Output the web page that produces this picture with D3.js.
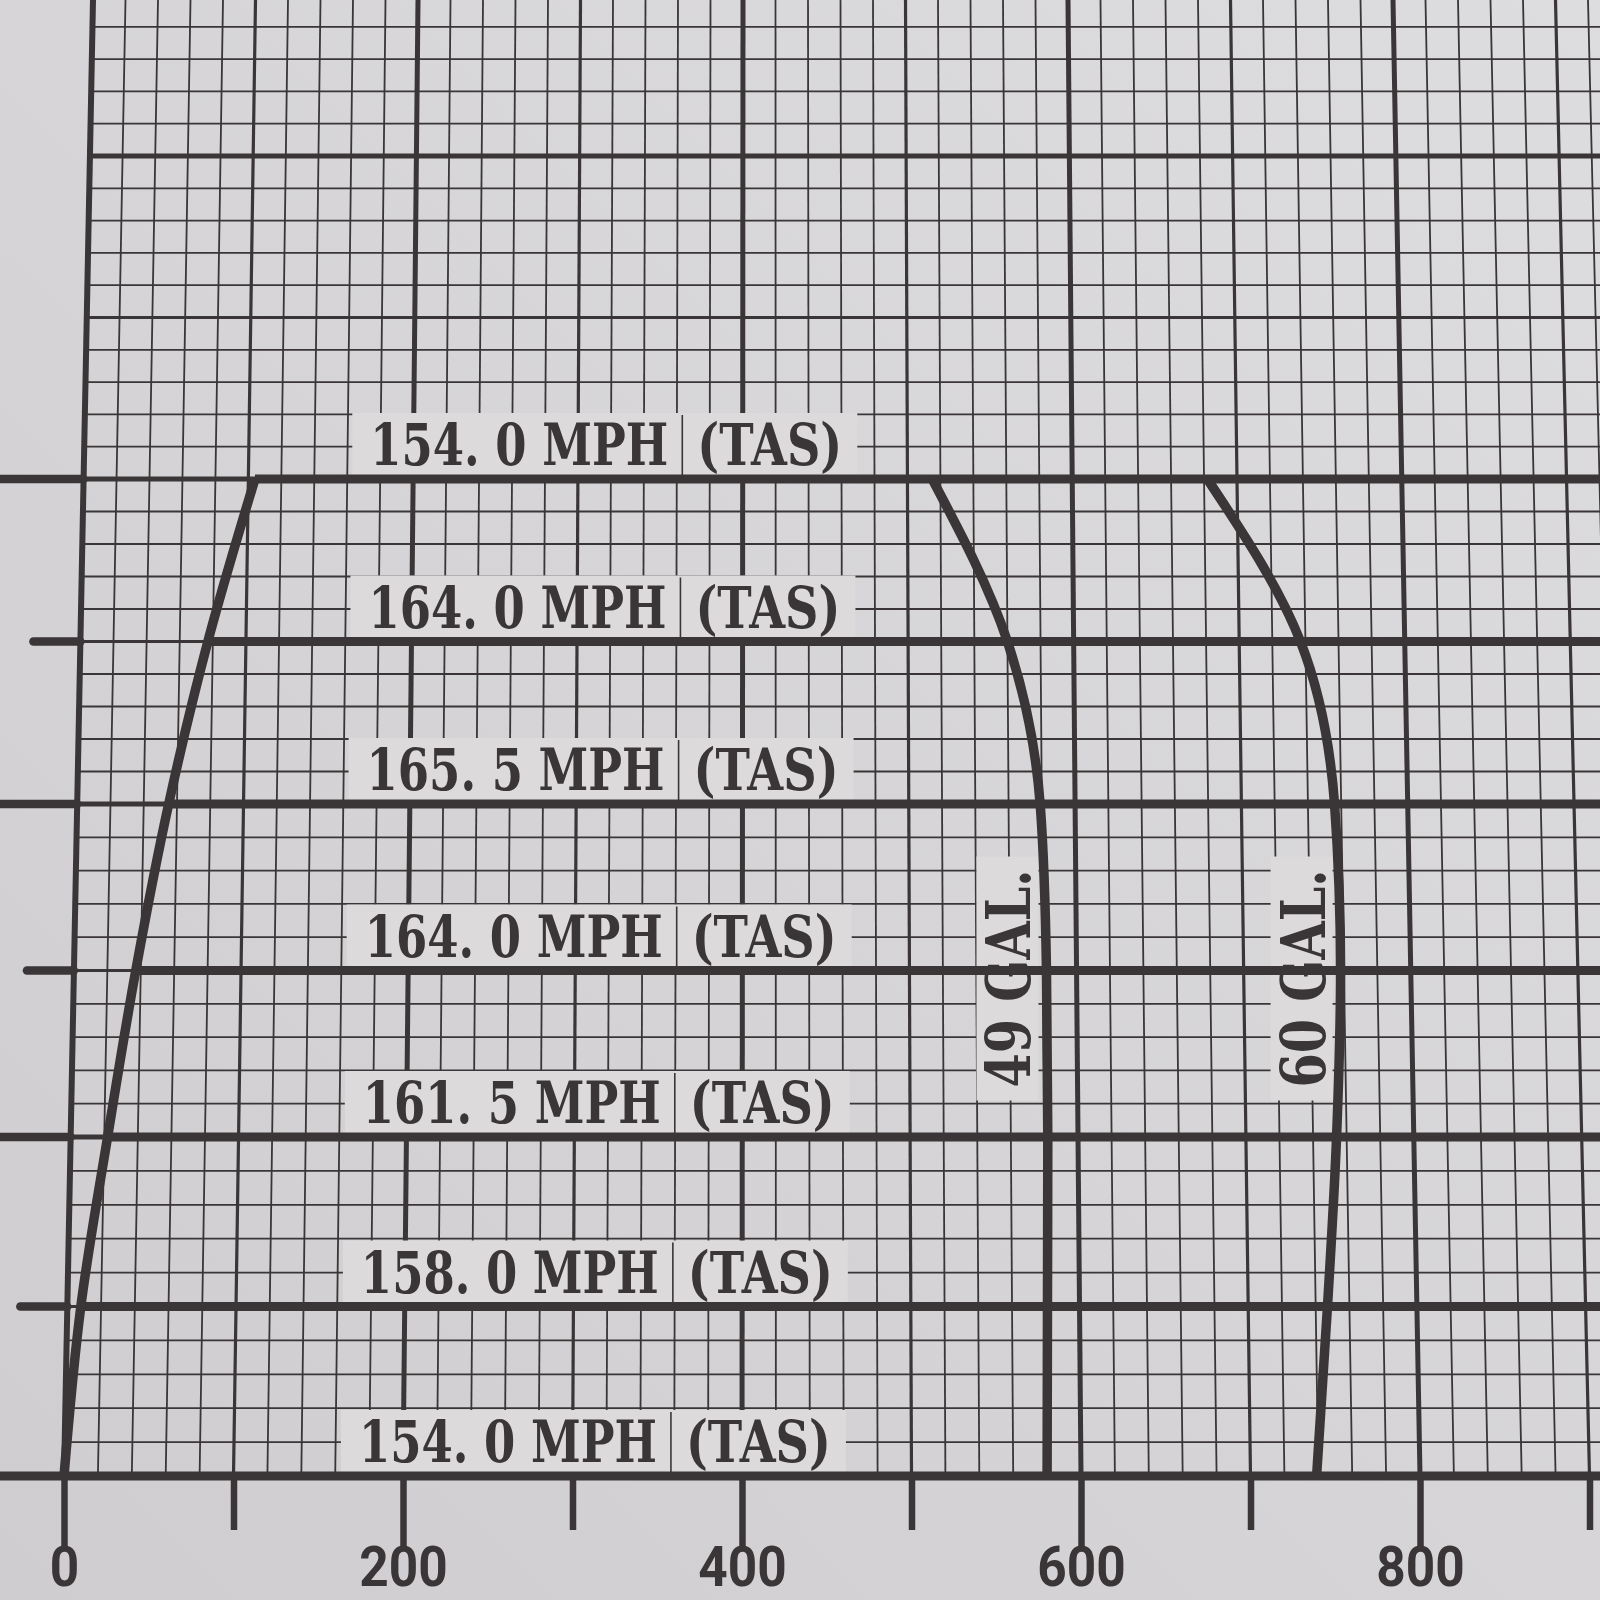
<!DOCTYPE html>
<html><head><meta charset="utf-8">
<script src="https://cdn.jsdelivr.net/npm/d3@7"></script>
<style>html,body{margin:0;padding:0;background:#d6d5d6;} svg{display:block}</style>
</head><body>
<svg id="c" width="1600" height="1600"></svg>
<script>
// ---------- data ----------
const altitudes  = [0, 2000, 4000, 6000, 8000, 10000, 12000];
const tasSpeeds  = ["154. 0", "158. 0", "161. 5", "164. 0", "165. 5", "164. 0", "154. 0"];
const climbRange = [0, 8, 22, 37, 55, 77, 104];
const range49    = [580, 581, 582, 582, 579, 560, 515];
const range60    = [739, 747, 754, 758, 756, 737, 682];
const fuelLabels = ["49 GAL.", "60 GAL."];
const xTickValues = [0, 100, 200, 300, 400, 500, 600, 700, 800, 900];
const xTickLabels = ["0", "200", "400", "600", "800"];
const tasUnit = "MPH";
const tasSuffix = "(TAS)";

// ---------- setup ----------
const W = 1600, H = 1600;
const ink = "#3a3637";
const svg = d3.select("#c");
const defs = svg.append("defs");
const grad = defs.append("linearGradient").attr("id", "paper")
  .attr("x1", "1").attr("y1", "0").attr("x2", "0").attr("y2", "1");
grad.append("stop").attr("offset", "0").attr("stop-color", "#dddcde");
grad.append("stop").attr("offset", "1").attr("stop-color", "#cfcdcf");
svg.append("rect").attr("width", W).attr("height", H).attr("fill", "url(#paper)");

// scales (photo is slightly keystoned: top row narrower than bottom row)
const yS   = d3.scaleLinear().domain([0, 4000, 8000, 12000, 16000]).range([1476, 1137, 804, 479, 156]);
const xTop = d3.scaleLinear().domain([0, 800]).range([93, 1393]);
const xBot = d3.scaleLinear().domain([0, 800]).range([64, 1420]);
const baseY = yS(0);
function xAt(u, py) { const t = py / baseY; return xTop(u) * (1 - t) + xBot(u) * t; }
function P(u, alt) { const py = yS(alt); return [xAt(u, py), py]; }

// text squeezed horizontally to a target width (scale transform, real text)
function fitText(parent, str, x, y, width, size, anchor) {
  const g = parent.append("g").attr("transform", `translate(${x},${y})`);
  const t = g.append("text").attr("x", 0).attr("y", 0)
    .attr("font-family", "'DejaVu Serif', serif").attr("font-weight", "bold")
    .attr("font-size", size).attr("fill", ink)
    .attr("text-anchor", anchor || "start").text(str);
  const w = t.node().getComputedTextLength();
  t.attr("transform", `scale(${width / w},1)`);
  return g;
}

// ---------- grid ----------
const gGrid = svg.append("g").attr("stroke", ink);
const gridU = d3.range(0, 961, 20);
gGrid.selectAll("line.v").data(gridU).join("line").attr("class", "v")
  .attr("x1", u => xAt(u, -5)).attr("y1", -5)
  .attr("x2", u => xAt(u, baseY)).attr("y2", baseY)
  .attr("stroke-width", u => u === 0 ? 6 : (u % 200 === 0 ? 5 : (u % 100 === 0 ? 3.2 : 1.8)));
const gridAlt = d3.range(400, 18401, 400);
gGrid.selectAll("line.h").data(gridAlt).join("line").attr("class", "h")
  .attr("x1", a => xAt(0, yS(a))).attr("x2", W + 5)
  .attr("y1", a => yS(a)).attr("y2", a => yS(a))
  .attr("stroke-width", a => a % 4000 === 0 ? 5 : (a % 2000 === 0 ? 3.2 : 1.8));

// ---------- left altitude ticks ----------
svg.append("g").selectAll("line").data(altitudes.filter(a => a > 0)).join("line")
  .attr("x1", a => a % 4000 === 0 ? -10 : xAt(0, yS(a)) - 47)
  .attr("x2", a => xAt(0, yS(a)))
  .attr("y1", a => yS(a)).attr("y2", a => yS(a))
  .attr("stroke", ink).attr("stroke-width", 8.5).attr("stroke-linecap", "round");

// ---------- speed label boxes (pasted strips) ----------
const labelU = 174;
const gLab = svg.append("g");
altitudes.forEach((alt, i) => {
  const [lx, ly] = P(labelU, alt);
  const g = gLab.append("g").attr("transform", `translate(${lx},${ly})`);
  g.append("rect").attr("x", -18).attr("y", -66).attr("width", 505).attr("height", 62)
    .attr("fill", "#dcdadb");
  g.append("line").attr("x1", 312).attr("x2", 312).attr("y1", -64).attr("y2", -4)
    .attr("stroke", ink).attr("stroke-width", 1.6);
  fitText(g, tasSpeeds[i] + " " + tasUnit, 0, -14, 298, 58);
  fitText(g, tasSuffix, 327, -14, 145, 58);
});

// ---------- fuel label boxes ----------
[range49, range60].forEach((rng, k) => {
  const [cx, cy] = P(rng[3], altitudes[3]);
  const g = svg.append("g").attr("transform", `translate(${cx - 16},${cy + 8}) rotate(-90)`);
  g.append("rect").attr("x", -122).attr("y", -54).attr("width", 244).attr("height", 62)
    .attr("fill", "#dcdadb");
  fitText(g, fuelLabels[k], 0, 0, 218, 62, "middle");
});

// ---------- data lines ----------
const gData = svg.append("g").attr("stroke", ink).attr("fill", "none");
// altitude (TAS) lines from climb line to right edge
gData.selectAll("line").data(altitudes).join("line")
  .attr("x1", (a, i) => i === 0 ? -10 : P(climbRange[i], a)[0])
  .attr("x2", W + 10)
  .attr("y1", a => yS(a)).attr("y2", a => yS(a))
  .attr("stroke-width", 9);

const lineGen = d3.line().curve(d3.curveMonotoneY);
const climbPts = altitudes.map((a, i) => P(climbRange[i], a));
gData.append("path").attr("d", lineGen(climbPts)).attr("stroke-width", 9.5).attr("stroke-linejoin", "round");
const pts49 = altitudes.map((a, i) => P(range49[i], a));
gData.append("path").attr("d", lineGen(pts49)).attr("stroke-width", 9.5);
const pts60 = altitudes.map((a, i) => P(range60[i], a));
gData.append("path").attr("d", lineGen(pts60)).attr("stroke-width", 9.5);

// ---------- bottom axis ----------
const axis = d3.axisBottom(xBot).tickValues(xTickValues)
  .tickSizeInner(70).tickSizeOuter(0).tickPadding(0)
  .tickFormat(d => xTickLabels.includes(String(d)) ? String(d) : "");
const gA = svg.append("g").attr("transform", `translate(0,${baseY})`).call(axis);
gA.select(".domain").remove();
gA.selectAll(".tick line").attr("stroke", ink).attr("stroke-width", 6.5)
  .attr("y2", d => d % 200 === 0 ? 70 : 54);
gA.selectAll(".tick text")
  .attr("fill", ink).attr("y", 0).attr("dy", 0)
  .attr("font-family", "Roboto, 'Liberation Sans', sans-serif")
  .attr("font-weight", "bold").attr("font-size", 56)
  .attr("transform", function() {
    const n = this.textContent.length;
    const w = n ? this.getComputedTextLength() : 1;
    const sx = n ? (29.5 * n) / w : 1;
    return `translate(0,110) scale(${sx},1)`;
  });
</script>
</body></html>
